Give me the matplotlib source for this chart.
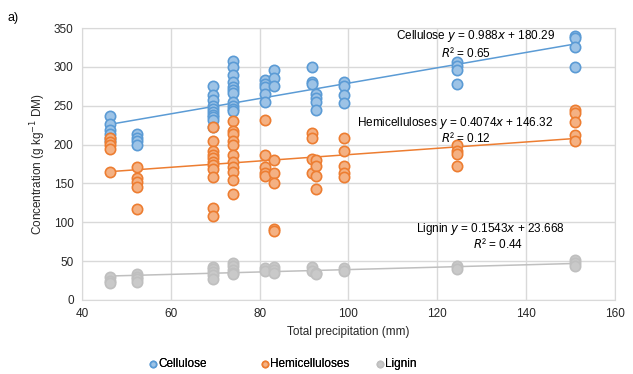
import numpy as np
import matplotlib.pyplot as plt

plt.rcParams['font.family'] = ['Liberation Sans', 'DejaVu Sans']

# precipitation (mm) and concentrations (g/kg DM)
cel_x = [46.3] * 6 + [52.4] * 4 + [69.6] * 10 + [74.0] * 11 + [81.2] * 5 + [83.2] * 3 \
    + [91.7] * 3 + [92.8] * 4 + [99.0] * 4 + [124.5] * 4 + [151.0] * 4
cel_y = [237, 226, 219, 214, 209, 205,
         213, 208, 204, 200,
         275, 264, 257, 250, 246, 242, 238, 235, 231, 222,
         308, 300, 290, 281, 274, 270, 267, 255, 250, 246, 243,
         283, 278, 274, 265, 255,
         296, 286, 275,
         300, 281, 278,
         265, 260, 255, 245,
         280, 276, 264, 253,
         306, 301, 296, 278,
         340, 337, 326, 300]

hem_x = [46.3] * 5 + [52.4] * 5 + [69.6] * 11 + [74.0] * 11 + [81.2] * 5 + [83.2] * 5 \
    + [91.7] * 4 + [92.8] * 4 + [99.0] * 5 + [124.5] * 4 + [151.0] * 5
hem_y = [208, 203, 199, 194, 165,
         171, 157, 152, 145, 117,
         223, 204, 192, 186, 183, 177, 174, 169, 158, 119, 108,
         230, 218, 214, 205, 199, 186, 178, 171, 165, 155, 136,
         231, 187, 171, 164, 159,
         180, 163, 150, 91, 89,
         215, 209, 181, 164,
         180, 172, 160, 143,
         209, 192, 173, 163, 158,
         199, 192, 188, 173,
         245, 241, 229, 212, 204]

lig_x = [46.3] * 3 + [52.4] * 4 + [69.6] * 5 + [74.0] * 5 + [81.2] * 2 + [83.2] * 3 \
    + [91.7] * 2 + [92.8] * 2 + [99.0] * 2 + [124.5] * 2 + [151.0] * 3
lig_y = [29, 25, 22,
         34, 30, 27, 23,
         43, 40, 36, 32, 27,
         48, 44, 39, 35, 33,
         41, 37,
         43, 39, 35,
         43, 37,
         35, 33,
         41, 37,
         44, 40,
         52, 48, 44]

# trendline coefficients as printed on the chart
cel_fit = (0.988, 180.29, '0.65')
hem_fit = (0.4074, 146.32, '0.12')
lig_fit = (0.1543, 23.668, '0.44')

series = [
    ('Cellulose', cel_x, cel_y, cel_fit, '#9DC3E6', '#5B9BD5', '#5B9BD5'),
    ('Hemicelluloses', hem_x, hem_y, hem_fit, '#F4B183', '#ED7D31', '#ED7D31'),
    ('Lignin', lig_x, lig_y, lig_fit, '#C9C9C9', '#BFBFBF', '#BFBFBF'),
]

fig = plt.figure(figsize=(6.33, 3.74), dpi=100)
ax = fig.add_axes([0.1295, 0.198, 0.842, 0.727])

handles = []
for name, xs, ys, fit, face, edge, line in series:
    h = ax.scatter(xs, ys, s=55, facecolor=face, edgecolor=edge, linewidth=1.2,
                   label=name, zorder=3)
    handles.append(h)
    xx = np.array([min(xs), max(xs)])
    ax.plot(xx, fit[0] * xx + fit[1], color=line, linewidth=1.1, zorder=2)

ax.set_xlim(40, 160)
ax.set_ylim(0, 350)
ax.set_xticks(range(40, 161, 20))
ax.set_yticks(range(0, 351, 50))
ax.grid(True, color='#D9D9D9', linewidth=1)
ax.set_axisbelow(True)
for sp in ax.spines.values():
    sp.set_color('#D9D9D9')
ax.tick_params(length=0, labelsize=8.5, colors='#262626', pad=6)
ax.set_xlabel('Total precipitation (mm)', fontsize=8.5, color='#262626')
ax.set_ylabel('Concentration (g kg$^{-1}$ DM)', fontsize=8.5, color='#262626')

# trendline labels
ax.text(0.59, 0.97, 'Cellulose $y$ = 0.988$x$ + 180.29', transform=ax.transAxes,
        fontsize=8.5, ha='left', va='center')
ax.text(0.72, 0.91, '$R$² = 0.65', transform=ax.transAxes, fontsize=8.5, ha='center', va='center')
ax.text(0.516, 0.65, 'Hemicelluloses $y$ = 0.4074$x$ + 146.32', transform=ax.transAxes,
        fontsize=8.5, ha='left', va='center')
ax.text(0.72, 0.595, '$R$² = 0.12', transform=ax.transAxes, fontsize=8.5, ha='center', va='center')
ax.text(0.627, 0.26, 'Lignin $y$ = 0.1543$x$ + 23.668', transform=ax.transAxes,
        fontsize=8.5, ha='left', va='center')
ax.text(0.78, 0.205, '$R$² = 0.44', transform=ax.transAxes, fontsize=8.5, ha='center', va='center')

fig.text(0.012, 0.945, 'a)', fontsize=9)

# legend entries at fixed slots, as in the original
for h, xpos in zip(handles, [0.236, 0.413, 0.595]):
    lg = fig.legend([h], [h.get_label()], loc='center left', bbox_to_anchor=(xpos, 0.027),
                    frameon=False, fontsize=8.5, handlelength=0.6, handletextpad=0.15,
                    borderpad=0, borderaxespad=0, scatterpoints=1, markerscale=0.6)
    fig.add_artist(lg)

fig.savefig('out.png', dpi=100)
